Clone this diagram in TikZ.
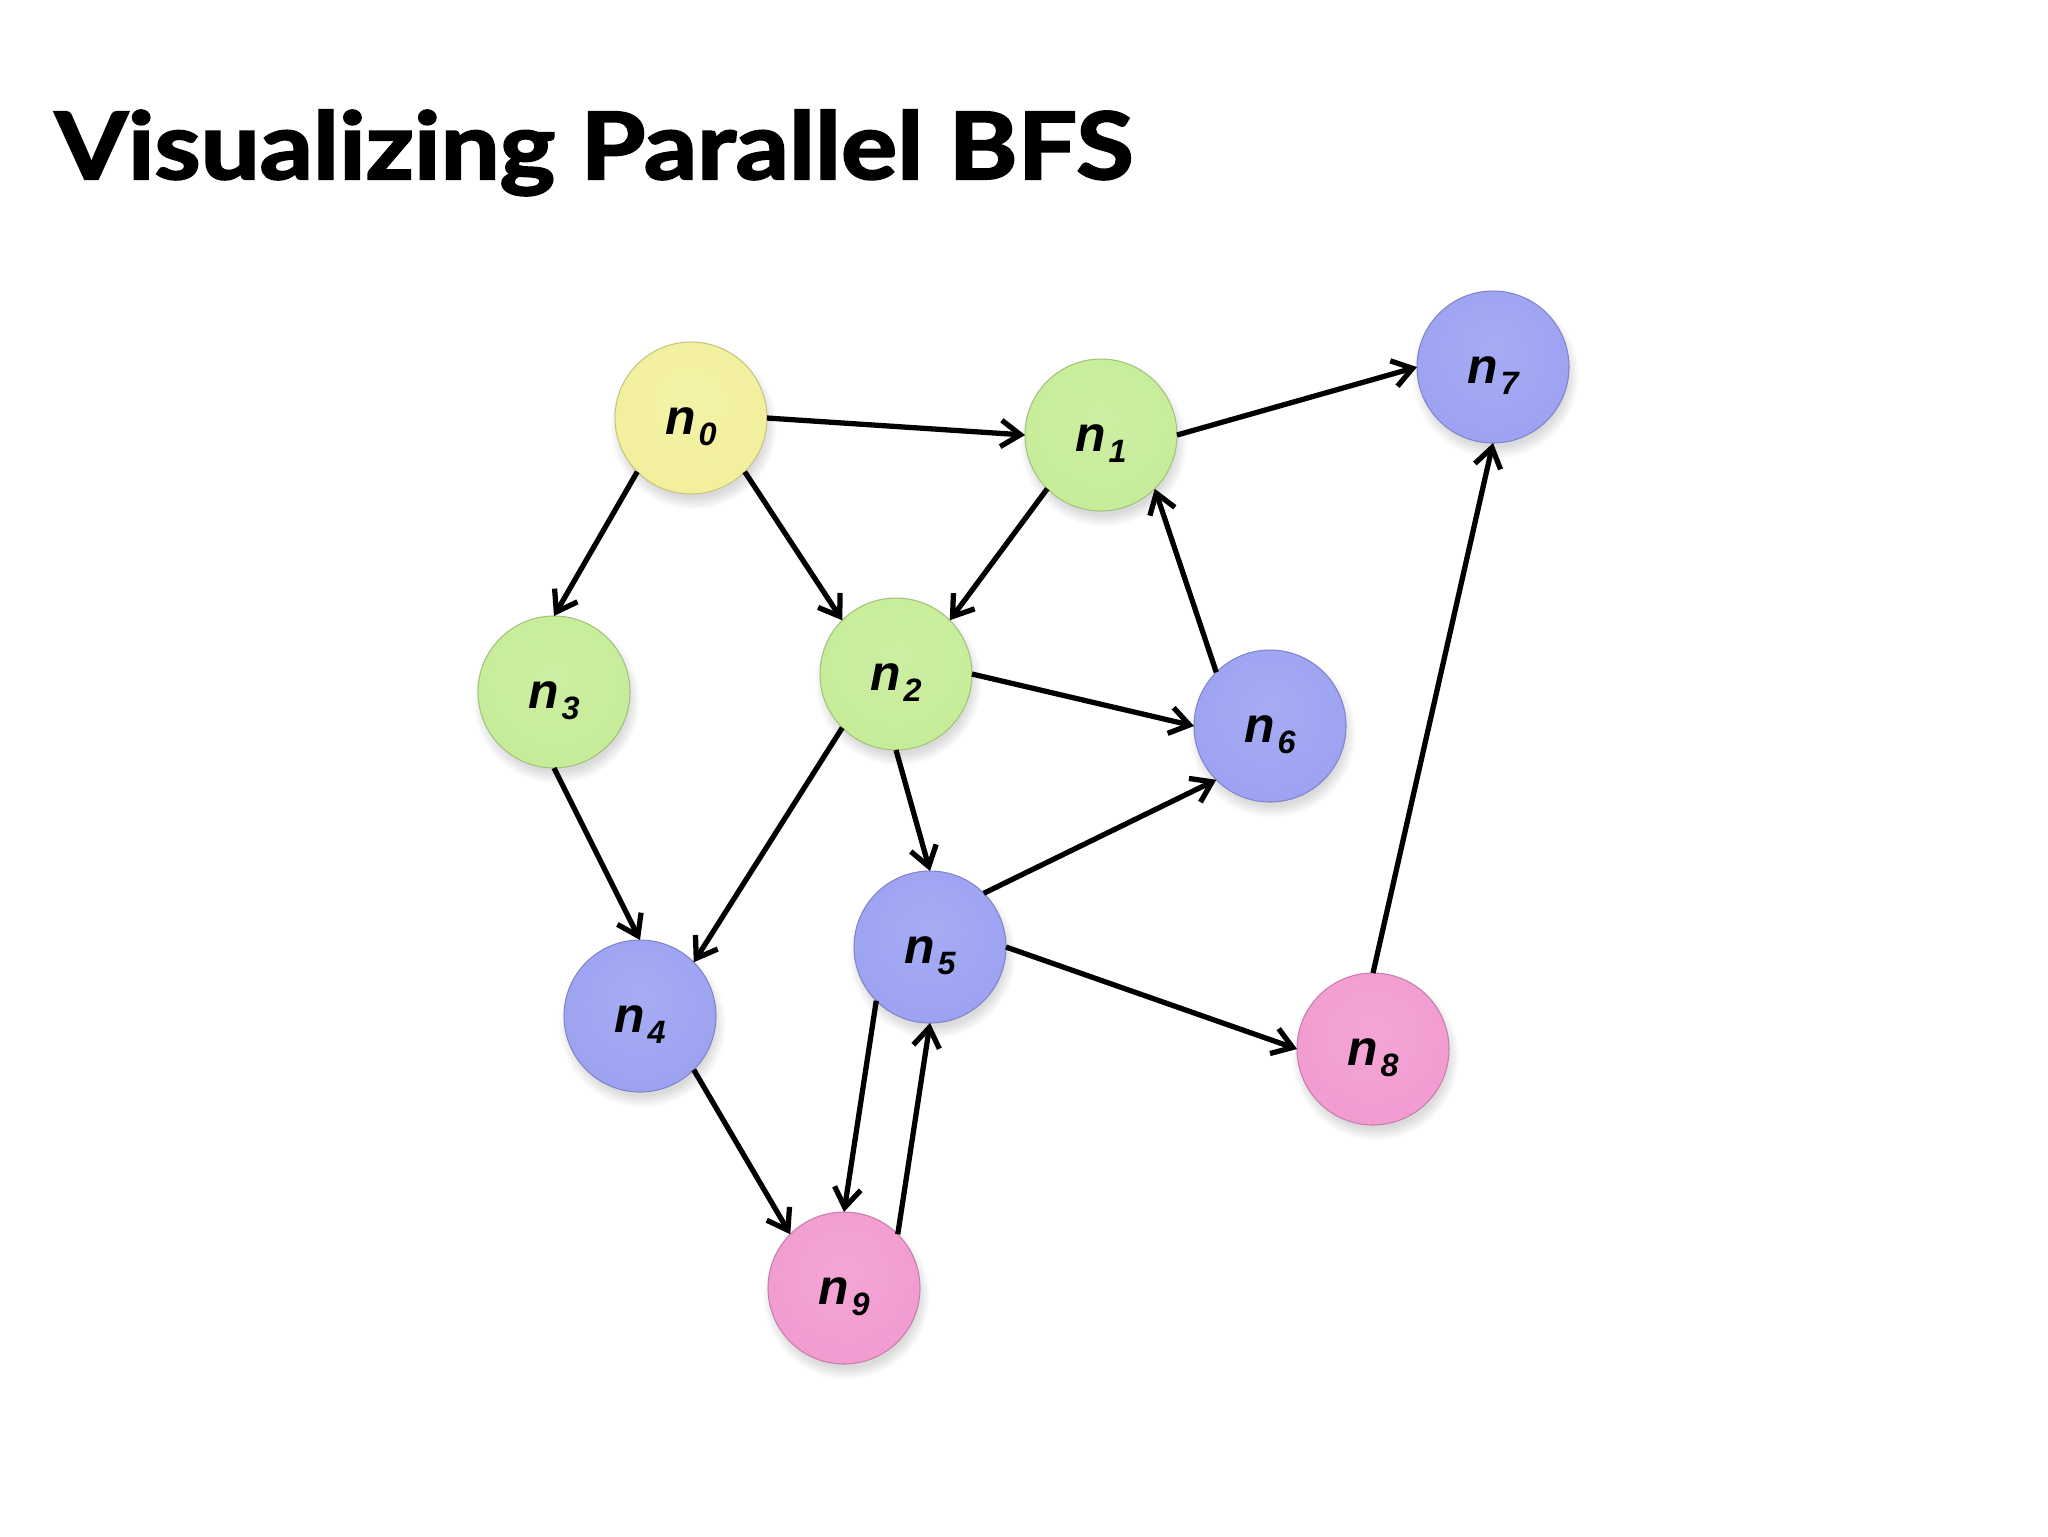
\documentclass[tikz,border=0pt]{standalone}
\usepackage{fontspec}
\setmainfont{Liberation Sans}
\newfontfamily\titlefont{Lato}[BoldFeatures={FakeBold=2.2}]
\usetikzlibrary{arrows.meta,shadows}

\definecolor{ybase}{RGB}{242,240,156}
\definecolor{gbase}{RGB}{198,236,152}
\definecolor{bbase}{RGB}{156,162,242}
\definecolor{pbase}{RGB}{242,155,208}

\newcommand\mkball[2]{%
  \colorlet{#1light}{#2!90!white}%
  \colorlet{#1mid}{#2!95!black}%
  \colorlet{#1dark}{#2!82!black}%
  \pgfdeclareradialshading{#1ball}{\pgfpoint{0bp}{6bp}}{color(0bp)=(#1light); color(30bp)=(#2); color(46bp)=(#2); color(52bp)=(#1mid); color(56bp)=(#1dark); color(70bp)=(#1dark)}}
\mkball{y}{ybase}
\mkball{g}{gbase}
\mkball{b}{bbase}
\mkball{p}{pbase}

\newcommand\nlab[1]{n\kern0.05em\raisebox{-0.22em}{\fontsize{9.2}{10}\selectfont #1}}

\tikzset{
  ball/.style={circle, minimum size=15.2mm, inner sep=0pt, outer sep=0pt,
    shade, shading=#1ball, draw=#1dark, line width=0.3pt,
    circular drop shadow={shadow xshift=0.2mm, shadow yshift=-0.7mm, opacity=0.28},
    font=\fontsize{14.2}{16}\selectfont\bfseries\itshape,
    text height=12pt, text depth=2.4pt},
  edge/.style={line width=1.5pt, black, -{Straight Barb[length=5.5pt,width=7.5pt]}},
  title/.style={anchor=base west, inner sep=0pt, outer sep=0pt}
}

\begin{document}
\begin{tikzpicture}[x=0.1mm,y=-0.1mm]
\path[use as bounding box, fill=white] (0,0) rectangle (2048,1536);

\node[title] (title) at (55,179) {\resizebox{107.8mm}{6.9mm}{\titlefont\bfseries Visualizing Parallel BFS}};

\node[ball=y] (n0) at (691,418) {\nlab{0}};
\node[ball=g] (n1) at (1101,435) {\nlab{1}};
\node[ball=b] (n7) at (1493,367) {\nlab{7}};
\node[ball=g] (n3) at (554,692) {\nlab{3}};
\node[ball=g] (n2) at (896,674) {\nlab{2}};
\node[ball=b] (n6) at (1270,726) {\nlab{6}};
\node[ball=b] (n5) at (930,947) {\nlab{5}};
\node[ball=b] (n4) at (640,1016) {\nlab{4}};
\node[ball=p] (n8) at (1373,1049) {\nlab{8}};
\node[ball=p] (n9) at (844,1288) {\nlab{9}};

\draw[edge] (n0.east) -- (n1.west);
\draw[edge] (n0.225) -- (n3.90);
\draw[edge] (n0.-45) -- (n2.135);
\draw[edge] (n1.east) -- (n7.west);
\draw[edge] (n1.225) -- (n2.45);
\draw[edge] (n6.135) -- (n1.-45);
\draw[edge] (n2.east) -- (n6.west);
\draw[edge] (n2.south) -- (n5.north);
\draw[edge] (n2.225) -- (n4.45);
\draw[edge] (n3.south) -- (n4.north);
\draw[edge] (n5.45) -- (n6.225);
\draw[edge] (n5.east) -- (n8.west);
\draw[edge] (n8.north) -- (n7.south);
\draw[edge] (n4.-45) -- (n9.135);
\draw[edge] (n5.225) -- (n9.north);
\draw[edge] (n9.45) -- (n5.south);
\end{tikzpicture}
\end{document}
